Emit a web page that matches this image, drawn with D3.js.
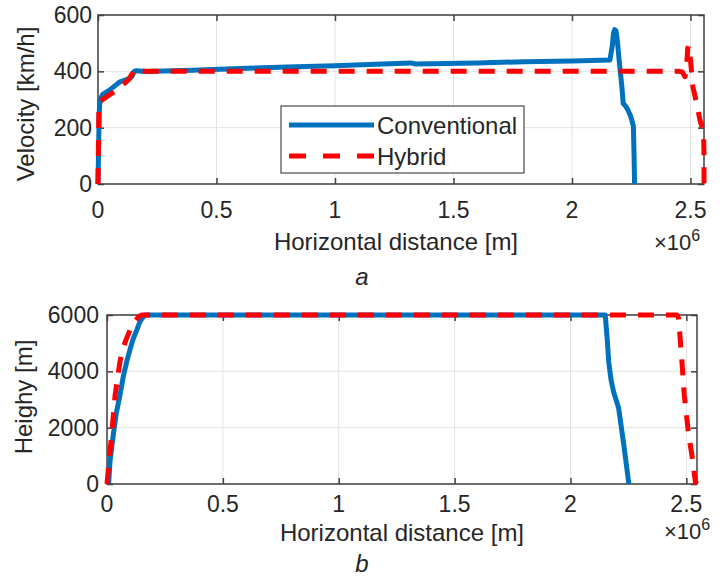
<!DOCTYPE html>
<html>
<head>
<meta charset="utf-8">
<script src="https://cdn.jsdelivr.net/npm/d3@7"></script>
<style>
  body { margin: 0; background: #fff; }
  text { font-family: "Liberation Sans", Arial, Helvetica, sans-serif; fill: #262626; }
</style>
</head>
<body>
<div id="vis-container"></div>
<script>
// series names
var seriesNames = ["Conventional", "Hybrid"];

// panel a: velocity vs horizontal distance (distance in 1e6 m)
var distConvA = [0, 0.002, 0.005, 0.008, 0.02, 0.05, 0.093, 0.12, 0.135, 0.145, 0.152, 0.16, 0.2, 0.4, 0.6, 0.8, 1.0, 1.2, 1.32, 1.34, 1.6, 1.8, 2.0, 2.16, 2.17, 2.175, 2.18, 2.185, 2.19, 2.2, 2.21, 2.216, 2.225, 2.236, 2.248, 2.259, 2.262, 2.264];
var velConvA  = [0, 100, 250, 298, 318, 334, 363, 371, 375, 385, 399, 402, 399, 404, 410, 415, 420, 426, 430, 426, 430, 434, 437, 440, 490, 535, 548, 545, 520, 430, 350, 286, 278, 263, 240, 206, 100, 0];

var distHybA = [0, 0.002, 0.004, 0.02, 0.04, 0.064, 0.093, 0.127, 0.145, 0.16, 0.175, 0.2, 1.0, 2.0, 2.45, 2.465, 2.477, 2.484, 2.488, 2.492, 2.496, 2.5, 2.51, 2.525, 2.54, 2.555, 2.557, 2.557];
var velHybA  = [0, 150, 290, 300, 312, 325, 343, 369, 392, 411, 404, 400, 400, 400, 400, 398, 381, 420, 480, 492, 470, 440, 345, 290, 227, 185, 100, 0];

// panel b: height vs horizontal distance (distance in 1e6 m)
var distConvB = [0.007, 0.013, 0.027, 0.04, 0.056, 0.07, 0.085, 0.1, 0.114, 0.13, 0.142, 0.155, 0.164, 2.15, 2.158, 2.165, 2.175, 2.186, 2.208, 2.23, 2.252];
var hConvB    = [0, 800, 1740, 2500, 3160, 3800, 4342, 4800, 5172, 5500, 5763, 5920, 6000, 6000, 5200, 4342, 3700, 3277, 2688, 1400, 0];

var distHybB = [0, 0.01, 0.02, 0.035, 0.056, 0.07, 0.085, 0.1, 0.121, 0.135, 0.15, 2.46, 2.466, 2.47, 2.481, 2.491, 2.51, 2.524, 2.539, 2.546];
var hHybB    = [0, 900, 1740, 3160, 4342, 4850, 5180, 5480, 5763, 5930, 6000, 6000, 5900, 5527, 4342, 3160, 1740, 1030, 82, 0];

// tick values
var xTicks = [0, 0.5, 1, 1.5, 2, 2.5];
var velTicks = [0, 200, 400, 600];
var heightTicks = [0, 2000, 4000, 6000];

var colors = ["#0072BD", "#FF0000"];

var svg = d3.select("#vis-container")
    .append("svg")
    .attr("width", 723)
    .attr("height", 576);

function zip(xs, ys) {
    return xs.map(function (d, i) { return { x: d, y: ys[i] }; });
}

function drawPanel(p) {
    var width = p.right - p.left;
    var height = p.bottom - p.top;
    var g = svg.append("g")
        .attr("transform", "translate(" + p.left + "," + p.top + ")");

    var xMax = d3.max(p.series, function (s) { return d3.max(s.xs); });
    var xScale = d3.scaleLinear().domain([0, xMax]).range([0, width]);
    var yScale = d3.scaleLinear().domain([0, d3.max(p.yTicks)]).range([height, 0]);

    // grid
    g.selectAll(".gridx").data(xTicks).enter().append("line")
        .attr("x1", function (d) { return xScale(d); })
        .attr("x2", function (d) { return xScale(d); })
        .attr("y1", 0).attr("y2", height)
        .style("stroke", "#e3e3e3").style("stroke-width", 1);
    g.selectAll(".gridy").data(p.yTicks).enter().append("line")
        .attr("x1", 0).attr("x2", width)
        .attr("y1", function (d) { return yScale(d); })
        .attr("y2", function (d) { return yScale(d); })
        .style("stroke", "#e3e3e3").style("stroke-width", 1);

    // inward ticks on all four sides
    var axes = [
        [d3.axisBottom(xScale).tickValues(xTicks), "translate(0," + height + ")"],
        [d3.axisTop(xScale).tickValues(xTicks), "translate(0,0)"],
        [d3.axisLeft(yScale).tickValues(p.yTicks), "translate(0,0)"],
        [d3.axisRight(yScale).tickValues(p.yTicks), "translate(" + width + ",0)"]
    ];
    axes.forEach(function (a) {
        var ax = g.append("g")
            .attr("transform", a[1])
            .call(a[0].tickSizeInner(-6).tickSizeOuter(0).tickFormat(""));
        ax.select(".domain").remove();
        ax.selectAll("line").style("stroke", "#404040").style("stroke-width", 1.5);
    });

    g.append("rect")
        .attr("width", width).attr("height", height)
        .style("fill", "none").style("stroke", "#404040").style("stroke-width", 1.5);

    // tick labels
    g.selectAll(".xlab").data(xTicks).enter().append("text")
        .attr("x", function (d) { return xScale(d); })
        .attr("y", height + p.tickOff)
        .style("text-anchor", "middle")
        .style("font-size", "23px")
        .text(function (d) { return d; });
    g.selectAll(".ylab").data(p.yTicks).enter().append("text")
        .attr("x", -p.yLabGap)
        .attr("y", function (d) { return yScale(d) + 8; })
        .style("text-anchor", "end")
        .style("font-size", "23px")
        .text(function (d) { return d; });

    // exponent
    var ex = g.append("text")
        .attr("x", p.expX - p.left)
        .attr("y", height + p.expOff)
        .style("font-size", "22px");
    ex.append("tspan").text("\u00d710");
    ex.append("tspan").attr("dy", -9).style("font-size", "16px").text("6");

    // axis labels
    g.append("text")
        .attr("x", p.xLabX - p.left)
        .attr("y", height + p.xLabOff)
        .style("text-anchor", "middle")
        .style("font-size", "24px")
        .text("Horizontal distance [m]");
    g.append("text")
        .attr("transform", "translate(" + (p.yLabX - p.left) + "," + (p.yLabY - p.top) + ") rotate(-90)")
        .style("text-anchor", "middle")
        .style("font-size", "24px")
        .text(p.yLabel);

    // subfigure letter
    g.append("text")
        .attr("x", 362 - p.left)
        .attr("y", p.letterY - p.top)
        .style("text-anchor", "middle")
        .style("font-size", "24px")
        .style("font-style", "italic")
        .text(p.letter);

    // lines
    var line = d3.line()
        .x(function (d) { return xScale(d.x); })
        .y(function (d) { return yScale(d.y); });
    p.series.forEach(function (s, i) {
        g.append("path")
            .datum(zip(s.xs, s.ys))
            .attr("d", line)
            .style("fill", "none")
            .style("stroke", colors[i])
            .style("stroke-width", 5)
            .style("stroke-linejoin", "round")
            .style("stroke-dasharray", i === 1 ? "16,12" : null);
    });
}

drawPanel({
    left: 98, right: 704, top: 15, bottom: 184,
    yTicks: velTicks, yLabel: "Velocity [km/h]", yLabGap: 6,
    yLabX: 34, yLabY: 104, xLabX: 396, expX: 654,
    tickOff: 34, xLabOff: 66, expOff: 66,
    letter: "a", letterY: 285,
    series: [{ xs: distConvA, ys: velConvA }, { xs: distHybA, ys: velHybA }]
});

drawPanel({
    left: 107, right: 697, top: 315, bottom: 484,
    yTicks: heightTicks, yLabel: "Heighy [m]", yLabGap: 8,
    yLabX: 32, yLabY: 397, xLabX: 402, expX: 664,
    tickOff: 28, xLabOff: 57, expOff: 55,
    letter: "b", letterY: 572,
    series: [{ xs: distConvB, ys: hConvB }, { xs: distHybB, ys: hHybB }]
});

// legend (panel a)
var legend = svg.append("g");
legend.append("rect")
    .attr("x", 281).attr("y", 106)
    .attr("width", 243).attr("height", 67)
    .style("fill", "#fff").style("stroke", "#262626").style("stroke-width", 1);
seriesNames.forEach(function (name, i) {
    var yy = 125 + i * 31;
    legend.append("line")
        .attr("x1", 289).attr("x2", 374)
        .attr("y1", yy).attr("y2", yy)
        .style("stroke", colors[i])
        .style("stroke-width", 5)
        .style("stroke-dasharray", i === 1 ? "17,17" : null);
    legend.append("text")
        .attr("x", 377).attr("y", yy + 9)
        .style("font-size", "24px")
        .text(name);
});
</script>
</body>
</html>
